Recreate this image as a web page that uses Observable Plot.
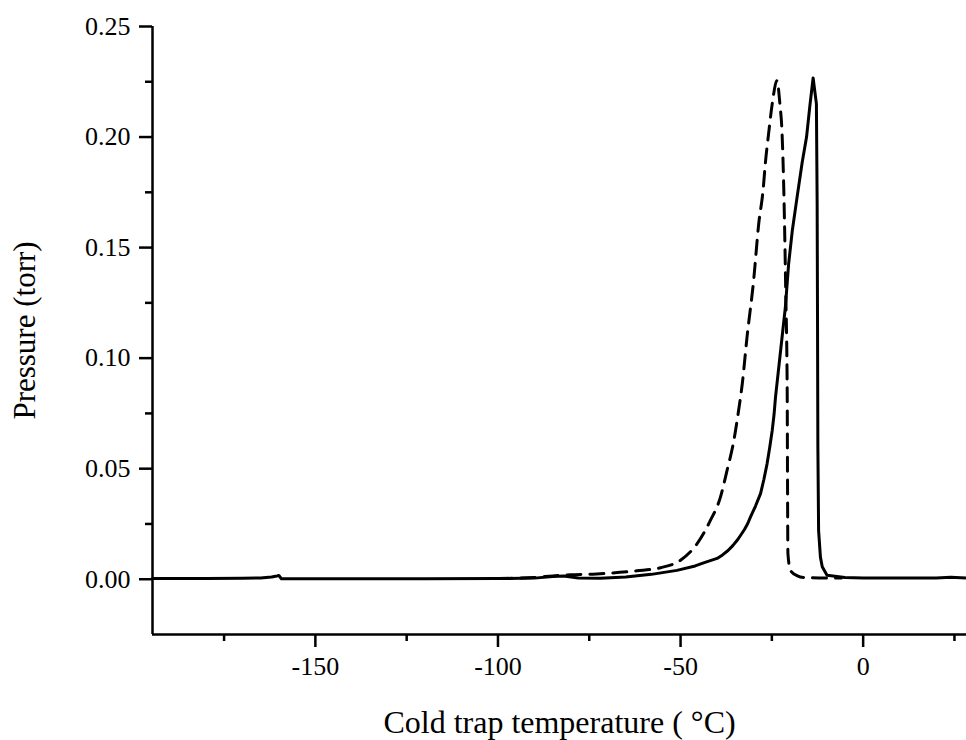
<!DOCTYPE html>
<html><head><meta charset="utf-8">
<script src="https://cdn.jsdelivr.net/npm/d3@7"></script>
<script src="https://cdn.jsdelivr.net/npm/@observablehq/plot@0.6"></script>
<style>body{margin:0;background:#fff}</style>
</head><body><div id="chart"></div>
<script>
// Solid curve
const solidT = [-194.6,-180,-170,-165,-162,-160.5,-160,-159.3,-150,-120,-100,-90,-85,-82,-78,-72,-65,-58,-51,-46,-43.7,-40,-38.5,-37,-35.7,-34.5,-33.5,-32.5,-31.6,-30.9,-29.5,-28.1,-27.2,-26.3,-25.6,-24.9,-24.4,-24.0,-22.7,-21.3,-20.4,-19.4,-18.1,-16.7,-15.5,-14.6,-13.7,-12.8,-12.6,-12.5,-12.4,-12.2,-11.7,-11.2,-9.9,-5,0,10,20,24,28.3];
const solidP = [0.0003,0.0003,0.0004,0.0006,0.0010,0.0015,0.0017,0.0002,0.0002,0.0002,0.0003,0.0005,0.0012,0.0015,0.0006,0.0004,0.0010,0.0022,0.0040,0.0060,0.0074,0.0094,0.0110,0.0130,0.0152,0.0176,0.0200,0.0225,0.0252,0.0280,0.0330,0.0387,0.0450,0.0523,0.0595,0.0673,0.0745,0.0824,0.1020,0.1230,0.1427,0.1577,0.1727,0.1885,0.2000,0.2140,0.2267,0.2150,0.1710,0.1200,0.0600,0.0220,0.0100,0.0056,0.0018,0.0008,0.0005,0.0005,0.0006,0.0009,0.0006];
// Dashed curve
const dashT = [-100,-90,-85,-80,-74,-62,-55.5,-50,-45.5,-41.8,-39.1,-37.3,-35.4,-34.1,-33.1,-31.8,-30.0,-28.6,-27.4,-26.8,-25.9,-24.9,-23.6,-22.8,-22.2,-21.7,-21.2,-20.8,-20.7,-20.6,-19.9,-18,-16.3,-10,-6];
const dashP = [0.0003,0.0008,0.0015,0.0020,0.0023,0.0038,0.0052,0.0086,0.0160,0.0267,0.0370,0.0490,0.0628,0.0764,0.0884,0.1095,0.1350,0.1607,0.1760,0.1878,0.2014,0.2150,0.2255,0.2150,0.2014,0.1740,0.1300,0.0850,0.0400,0.0116,0.0040,0.0015,0.0008,0.0005,0.0005];
const xMajor = [-150,-100,-50,0];
const xMinor = [-175,-125,-75,-25,25];
const yMajor = [0,0.05,0.10,0.15,0.20,0.25];
const yMinor = [0.025,0.075,0.125,0.175,0.225];
const xTitle = "Cold trap temperature ( °C)";
const yTitle = "Pressure (torr)";

const solid = solidT.map((t,i)=>({t, p: solidP[i]}));
const dashed = dashT.map((t,i)=>({t, p: dashP[i]}));
const xDom = [-194.6, 28.3];
const yDom = [-0.025, 0.25];

const chart = Plot.plot({
  width: 966, height: 740,
  marginLeft: 152, marginRight: 0, marginTop: 26, marginBottom: 106,
  style: {fontFamily: '"Liberation Serif", "Times New Roman", serif', fontSize: "26px", color: "#000", background: "#fff"},
  x: {domain: xDom},
  y: {domain: yDom},
  marks: [
    Plot.axisX({ticks: xMajor, tickSize: 13, tickPadding: 9, strokeWidth: 2.5, tickFormat: d => String(d), label: null, fontSize: 26}),
    Plot.axisX({ticks: xMinor, tickSize: 7, strokeWidth: 2.5, tickFormat: () => "", label: null}),
    Plot.axisY({ticks: yMajor, tickSize: 13, tickPadding: 9, strokeWidth: 2.5, tickFormat: d => d.toFixed(2), label: null, fontSize: 26}),
    Plot.axisY({ticks: yMinor, tickSize: 7, strokeWidth: 2.5, tickFormat: () => "", label: null}),
    Plot.ruleX([xDom[0]], {strokeWidth: 2.5}),
    Plot.ruleY([yDom[0]], {strokeWidth: 2.5}),
    Plot.line(dashed, {x: "t", y: "p", stroke: "#000", strokeWidth: 3, strokeDasharray: "14,9", curve: "monotone-x"}),
    Plot.line(solid, {x: "t", y: "p", stroke: "#000", strokeWidth: 3}),
    Plot.text([xTitle], {frameAnchor: "bottom", dy: 98, lineAnchor: "bottom", textAnchor: "middle", fontSize: 32}),
    Plot.text([yTitle], {frameAnchor: "left", dx: -127, rotate: -90, lineAnchor: "middle", textAnchor: "middle", fontSize: 31})
  ]
});
document.getElementById("chart").append(chart);
</script>
</body></html>
